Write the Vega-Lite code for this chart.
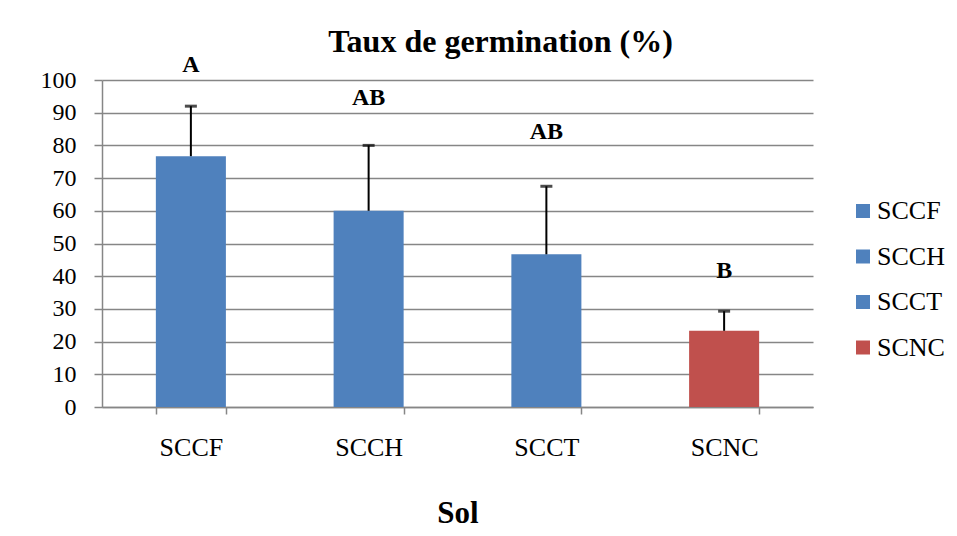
{
  "$schema": "https://vega.github.io/schema/vega-lite/v6.json",
  "width": 711,
  "height": 327,
  "autosize": {"type": "none"},
  "padding": {"left": 102, "top": 80, "right": 144, "bottom": 129},
  "background": "white",
  "title": {
    "text": "Taux de germination (%)",
    "font": "Liberation Serif",
    "fontSize": 32,
    "fontWeight": "bold",
    "color": "black",
    "anchor": "middle",
    "frame": "group",
    "dx": 43,
    "baseline": "alphabetic",
    "offset": -31
  },
  "data": {
    "values": [
      {"sol": "SCCF", "taux": 76.7, "upper": 92.0, "lettre": "A", "pos_lettre": 102.3},
      {"sol": "SCCH", "taux": 60.0, "upper": 80.0, "lettre": "AB", "pos_lettre": 92.5},
      {"sol": "SCCT", "taux": 46.7, "upper": 67.5, "lettre": "AB", "pos_lettre": 82.1},
      {"sol": "SCNC", "taux": 23.3, "upper": 29.3, "lettre": "B", "pos_lettre": 39.4}
    ]
  },
  "encoding": {
    "x": {
      "field": "sol",
      "type": "nominal",
      "sort": null,
      "scale": {"paddingInner": 0.606, "paddingOuter": 0.303},
      "axis": {
        "title": "Sol",
        "labelAngle": 0,
        "tickBand": "extent",
        "grid": false,
        "labelFontSize": 26,
        "labelPadding": 20,
        "titlePadding": 38
      }
    }
  },
  "layer": [
    {
      "mark": {"type": "bar"},
      "encoding": {
        "y": {
          "field": "taux",
          "type": "quantitative",
          "scale": {"domain": [0, 100], "nice": false},
          "axis": {"title": null}
        },
        "color": {
          "field": "sol",
          "type": "nominal",
          "sort": null,
          "scale": {"domain": ["SCCF", "SCCH", "SCCT", "SCNC"], "range": ["#4F81BD", "#4F81BD", "#4F81BD", "#C0504D"]},
          "legend": {
            "title": null,
            "orient": "none",
            "legendX": 748,
            "legendY": 118,
            "labelFont": "Liberation Serif",
            "labelFontSize": 26
          }
        }
      }
    },
    {
      "mark": {"type": "rule", "color": "black", "strokeWidth": 2},
      "encoding": {
        "y": {"field": "taux", "type": "quantitative"},
        "y2": {"field": "upper"}
      }
    },
    {
      "mark": {"type": "tick", "color": "black", "thickness": 3, "size": 12},
      "encoding": {
        "y": {"field": "upper", "type": "quantitative"}
      }
    },
    {
      "mark": {"type": "text", "font": "Liberation Serif", "fontSize": 24, "fontWeight": "bold", "color": "black", "baseline": "alphabetic"},
      "encoding": {
        "y": {"field": "pos_lettre", "type": "quantitative"},
        "text": {"field": "lettre"}
      }
    }
  ],
  "config": {
    "view": {"stroke": null},
    "axis": {
      "domainColor": "#868686",
      "domainWidth": 1.5,
      "tickColor": "#868686",
      "tickWidth": 1.5,
      "labelFont": "Liberation Serif",
      "labelColor": "black",
      "titleFont": "Liberation Serif",
      "titleFontSize": 31,
      "titleFontWeight": "bold",
      "titleColor": "black",
      "labelOverlap": false
    },
    "axisX": {"tickSize": 7},
    "axisY": {
      "tickCount": 10,
      "grid": true,
      "gridColor": "#868686",
      "gridWidth": 1.5,
      "tickSize": 8,
      "labelFontSize": 24,
      "labelPadding": 18
    },
    "legend": {
      "symbolType": "square",
      "symbolSize": 196,
      "symbolStrokeWidth": 0,
      "labelFont": "Liberation Serif",
      "labelFontSize": 26,
      "labelColor": "black",
      "labelOffset": 1,
      "rowPadding": 19.5
    }
  }
}
